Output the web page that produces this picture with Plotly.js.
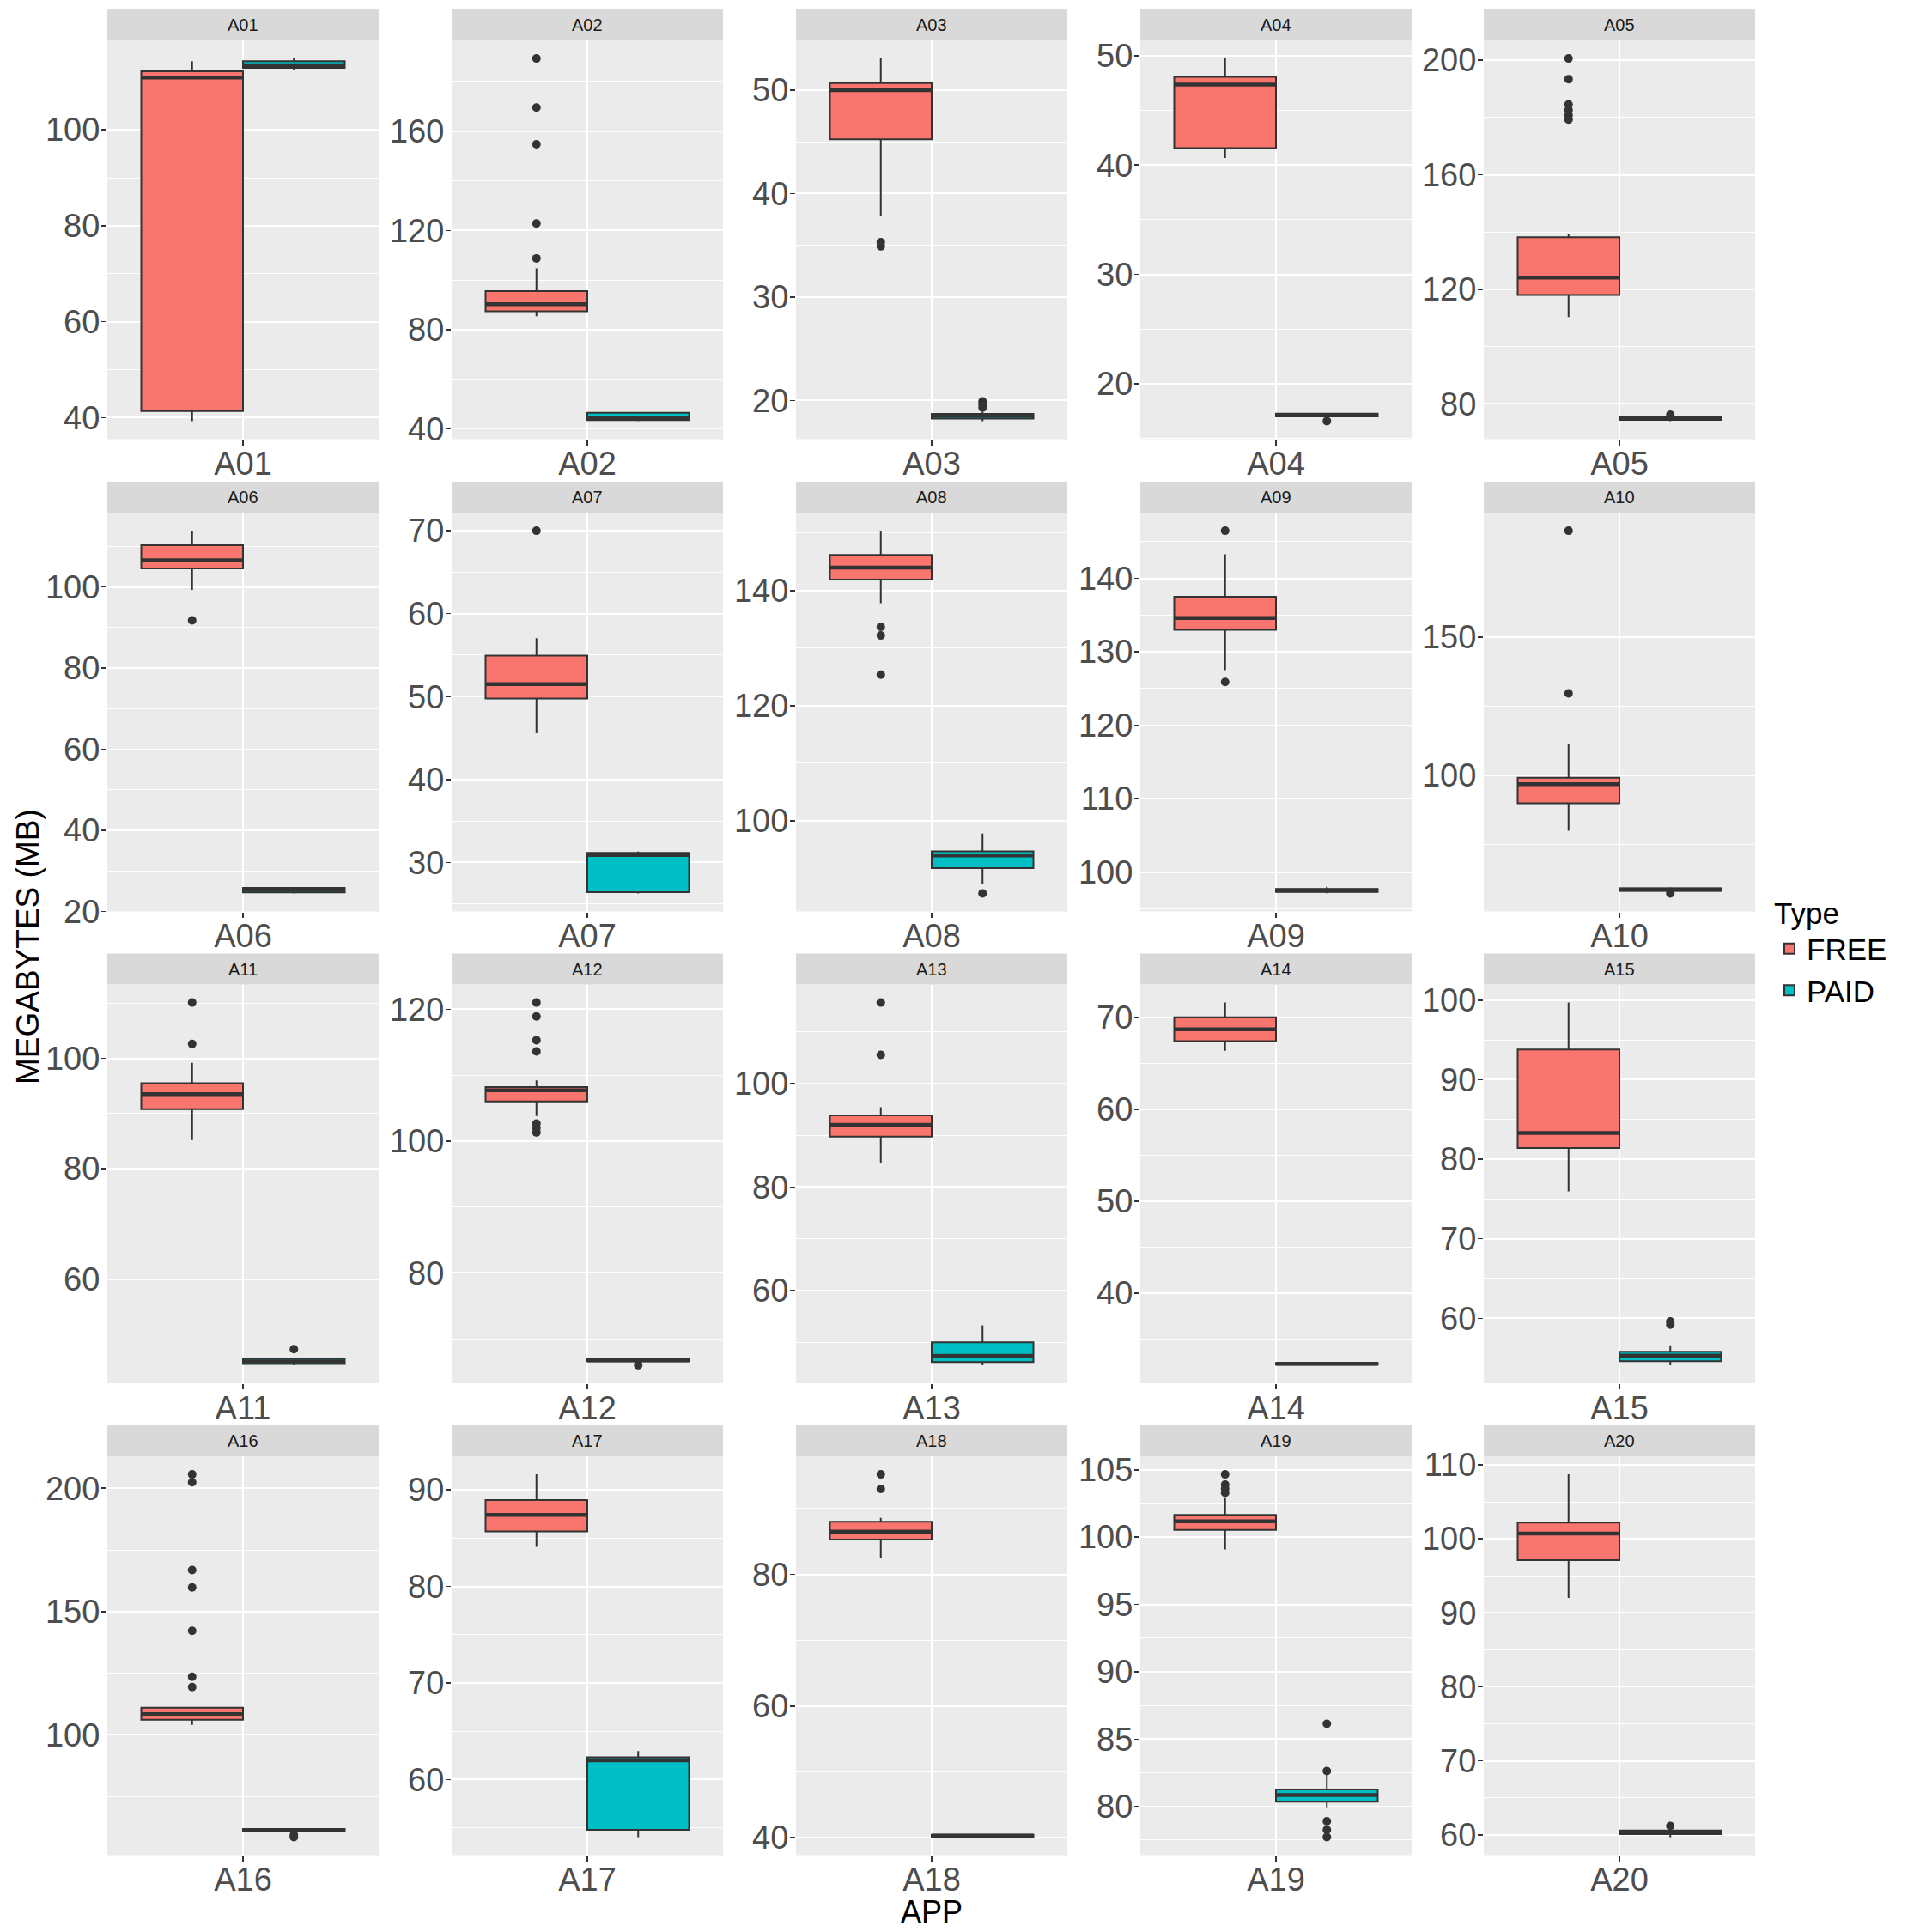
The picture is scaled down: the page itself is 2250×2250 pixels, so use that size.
<!DOCTYPE html>
<html><head><meta charset="utf-8">
<script src="https://cdn.plot.ly/plotly-3.0.1.min.js"></script>
<style>body{margin:0;background:#fff}#chart{width:2250px;height:2250px}</style>
</head><body><div id="chart"></div>
<script>
// ---- data (megabytes) ----
const apps = ['A01','A02','A03','A04','A05','A06','A07','A08','A09','A10','A11','A12','A13','A14','A15','A16','A17','A18','A19','A20'];
const types = ['FREE','PAID'];

const freeLo  = [39.3, 85.4, 37.8, 40.64, 110.3, 99.3, 45.58, 137.8, 127.5, 79.9, 85.2, 103.8, 84.6, 66.35, 75.95, 104.1, 84.1, 82.45, 99.08, 92.0];
const freeQ1  = [41.4, 87.4, 45.25, 41.56, 118.0, 104.6, 49.76, 141.9, 133.0, 89.8, 90.8, 106.0, 89.7, 67.4, 81.4, 106.2, 85.7, 85.3, 100.54, 97.1];
const freeMed = [110.9, 90.2, 50.0, 47.36, 124.1, 106.6, 51.5, 144.0, 134.6, 96.7, 93.5, 107.7, 92.0, 68.7, 83.3, 108.4, 87.4, 86.5, 101.17, 100.7];
const freeQ3  = [112.2, 95.5, 50.68, 48.07, 138.2, 110.3, 54.94, 146.2, 137.5, 99.1, 95.5, 108.2, 93.8, 70.0, 93.8, 111.0, 88.95, 88.0, 101.66, 102.2];
const freeHi  = [114.3, 104.7, 53.06, 49.75, 139.2, 113.9, 57.05, 150.4, 143.3, 111.1, 99.2, 109.2, 95.4, 71.6, 99.7, 111.2, 91.6, 88.6, 102.9, 108.7];
const freeOut = [
  [], [189.3, 169.5, 154.7, 122.8, 108.7], [35.3, 34.9], [], [200.6, 193.4, 184.5, 182.6, 180.8, 179.3],
  [91.8], [70.0], [133.7, 132.2, 125.4], [146.5, 125.9], [188.5, 129.6],
  [110.1, 102.6], [121.0, 118.9, 115.3, 113.6, 102.65, 102.0, 101.3], [115.6, 105.5], [], [],
  [205.6, 202.4, 166.8, 159.8, 142.2, 123.6, 119.4], [], [95.2, 93.0], [104.66, 103.9, 103.6, 103.3], []
];

const paidLo  = [112.5, 43.1, 18.0, 16.95, 74.0, 24.45, 26.27, 89.0, 97.1, 57.8, 44.4, 66.5, 45.6, 32.15, 54.1, 60.8, 54.05, 40.1, 79.88, 59.7];
const paidQ1  = [112.9, 43.5, 18.25, 17.0, 74.4, 24.7, 26.42, 91.8, 97.3, 58.1, 44.6, 66.6, 46.2, 32.2, 54.6, 60.9, 54.8, 40.15, 80.36, 60.1];
const paidMed = [113.45, 44.3, 18.5, 17.1, 75.0, 25.3, 30.9, 94.0, 97.5, 58.6, 45.1, 66.75, 47.4, 32.3, 55.3, 61.4, 62.0, 40.3, 80.85, 60.35];
const paidQ3  = [114.3, 46.4, 18.7, 17.25, 75.5, 25.8, 31.15, 94.7, 97.7, 59.0, 45.6, 66.9, 50.0, 32.4, 55.8, 61.9, 62.3, 40.45, 81.27, 60.6];
const paidHi  = [114.85, 46.8, 18.9, 17.3, 75.8, 26.0, 31.3, 97.8, 98.0, 59.4, 45.8, 67.0, 53.3, 32.45, 56.6, 62.0, 62.95, 40.5, 82.36, 60.7];
const paidOut = [
  [], [], [19.9, 19.6, 19.3], [16.58], [76.2],
  [], [], [87.4], [], [57.2],
  [47.3], [66.0], [], [], [59.6, 59.2],
  [59.4, 58.6], [], [], [86.14, 82.63, 78.9, 78.27, 77.73], [61.2]
];

// tick spacing per panel (y axis)
const yStep = [20, 40, 10, 10, 40, 20, 10, 20, 10, 50, 20, 20, 20, 10, 10, 50, 10, 20, 5, 10];

// ---- layout geometry / style ----
const W = 2250, H = 2250;
const colLeft = [125, 526, 927, 1328, 1728], panelW = 316;
const rowTop = [47, 597, 1146.5, 1696], panelH = 464.5, stripH = 36;
const FREE_COL = '#F8766D', PAID_COL = '#00BFC4', LINE = '#333333';
const xPos = {FREE: 0.775, PAID: 1.225}, boxW = 0.45;
const FONT = 'Liberation Sans, Arial, Helvetica, sans-serif';

const stats = {
  FREE: {lo: freeLo, q1: freeQ1, med: freeMed, q3: freeQ3, hi: freeHi, out: freeOut, col: FREE_COL},
  PAID: {lo: paidLo, q1: paidQ1, med: paidMed, q3: paidQ3, hi: paidHi, out: paidOut, col: PAID_COL}
};

const traces = [];
const layout = {
  width: W, height: H, autosize: false,
  margin: {l: 0, r: 0, t: 0, b: 0},
  paper_bgcolor: '#FFFFFF', plot_bgcolor: '#EBEBEB',
  font: {family: FONT, color: '#000'},
  showlegend: true,
  legend: {
    x: 2064 / W, y: 1 - 1030 / H, xanchor: 'left', yanchor: 'top',
    font: {size: 35, color: '#000', family: FONT},
    title: {text: 'Type', font: {size: 35, color: '#000', family: FONT}},
    bgcolor: 'rgba(0,0,0,0)', tracegroupgap: 0, itemwidth: 30
  },
  shapes: [], annotations: []
};

apps.forEach((app, i) => {
  const r = Math.floor(i / 5), c = i % 5;
  const sx = i === 0 ? '' : String(i + 1);
  const xa = 'x' + sx, ya = 'y' + sx;

  // y range from data with 5% expansion (ggplot default)
  let vals = [];
  types.forEach(t => {
    const s = stats[t];
    vals.push(s.lo[i], s.hi[i], ...s.out[i]);
  });
  const mn = Math.min(...vals), mx = Math.max(...vals);
  const pad = (mx - mn) * 0.05;

  layout['xaxis' + sx] = {
    domain: [colLeft[c] / W, (colLeft[c] + panelW) / W], anchor: ya,
    range: [0.4, 1.6], tickvals: [1], ticktext: [app],
    ticks: 'outside', ticklen: 6, tickwidth: 1.5, tickcolor: LINE,
    tickfont: {size: 38, color: '#4D4D4D', family: FONT},
    showgrid: true, gridcolor: '#FFFFFF', gridwidth: 2,
    zeroline: false, showline: false, fixedrange: true, ticklabelstandoff: -11
  };
  layout['yaxis' + sx] = {
    domain: [1 - (rowTop[r] + panelH) / H, 1 - rowTop[r] / H], anchor: xa,
    range: [mn - pad, mx + pad], tick0: 0, dtick: yStep[i],
    ticks: 'outside', ticklen: 6, tickwidth: 1.5, tickcolor: LINE,
    tickfont: {size: 38, color: '#4D4D4D', family: FONT},
    showgrid: true, gridcolor: '#FFFFFF', gridwidth: 2,
    minor: {tick0: 0, dtick: yStep[i] / 2, showgrid: true, gridcolor: '#FFFFFF', gridwidth: 1, ticks: ''},
    zeroline: false, showline: false, fixedrange: true, ticklabelstandoff: -6
  };

  // strip
  layout.shapes.push({
    type: 'rect', xref: 'paper', yref: 'paper', layer: 'below',
    x0: colLeft[c] / W, x1: (colLeft[c] + panelW) / W,
    y0: 1 - rowTop[r] / H, y1: 1 - (rowTop[r] - stripH) / H,
    fillcolor: '#D9D9D9', line: {width: 0}
  });
  layout.annotations.push({
    xref: 'paper', yref: 'paper', x: (colLeft[c] + panelW / 2) / W, y: 1 - (rowTop[r] - stripH / 2) / H,
    xanchor: 'center', yanchor: 'middle', showarrow: false, text: app,
    font: {size: 20, color: '#1A1A1A', family: FONT}
  });

  types.forEach(t => {
    const s = stats[t], x0 = xPos[t];
    // outliers
    if (s.out[i].length) {
      traces.push({
        type: 'scatter', mode: 'markers', xaxis: xa, yaxis: ya,
        x: s.out[i].map(() => x0), y: s.out[i],
        marker: {color: LINE, size: 10}, showlegend: false, hoverinfo: 'skip'
      });
    }
    // box
    traces.push({
      type: 'box', xaxis: xa, yaxis: ya, name: t, legendgroup: t, showlegend: i === 0,
      x: [x0], q1: [s.q1[i]], median: [s.med[i]], q3: [s.q3[i]],
      lowerfence: [s.lo[i]], upperfence: [s.hi[i]],
      width: boxW, whiskerwidth: 0, boxpoints: false,
      fillcolor: s.col, line: {color: LINE, width: 2}, hoverinfo: 'skip'
    });
    // thick median
    traces.push({
      type: 'scatter', mode: 'lines', xaxis: xa, yaxis: ya,
      x: [x0 - boxW / 2, x0 + boxW / 2], y: [s.med[i], s.med[i]],
      line: {color: LINE, width: 4.5}, showlegend: false, hoverinfo: 'skip'
    });
  });
});

// axis titles
layout.annotations.push({
  xref: 'paper', yref: 'paper', x: 32 / W, y: 1 - 1103 / H, textangle: -90,
  xanchor: 'center', yanchor: 'middle', showarrow: false, text: 'MEGABYTES (MB)',
  font: {size: 37, color: '#000', family: FONT}
});
layout.annotations.push({
  xref: 'paper', yref: 'paper', x: 1085 / W, y: 1 - 2226 / H,
  xanchor: 'center', yanchor: 'middle', showarrow: false, text: 'APP',
  font: {size: 36, color: '#000', family: FONT}
});

Plotly.newPlot('chart', traces, layout, {displayModeBar: false, staticPlot: true});
</script>
</body></html>
